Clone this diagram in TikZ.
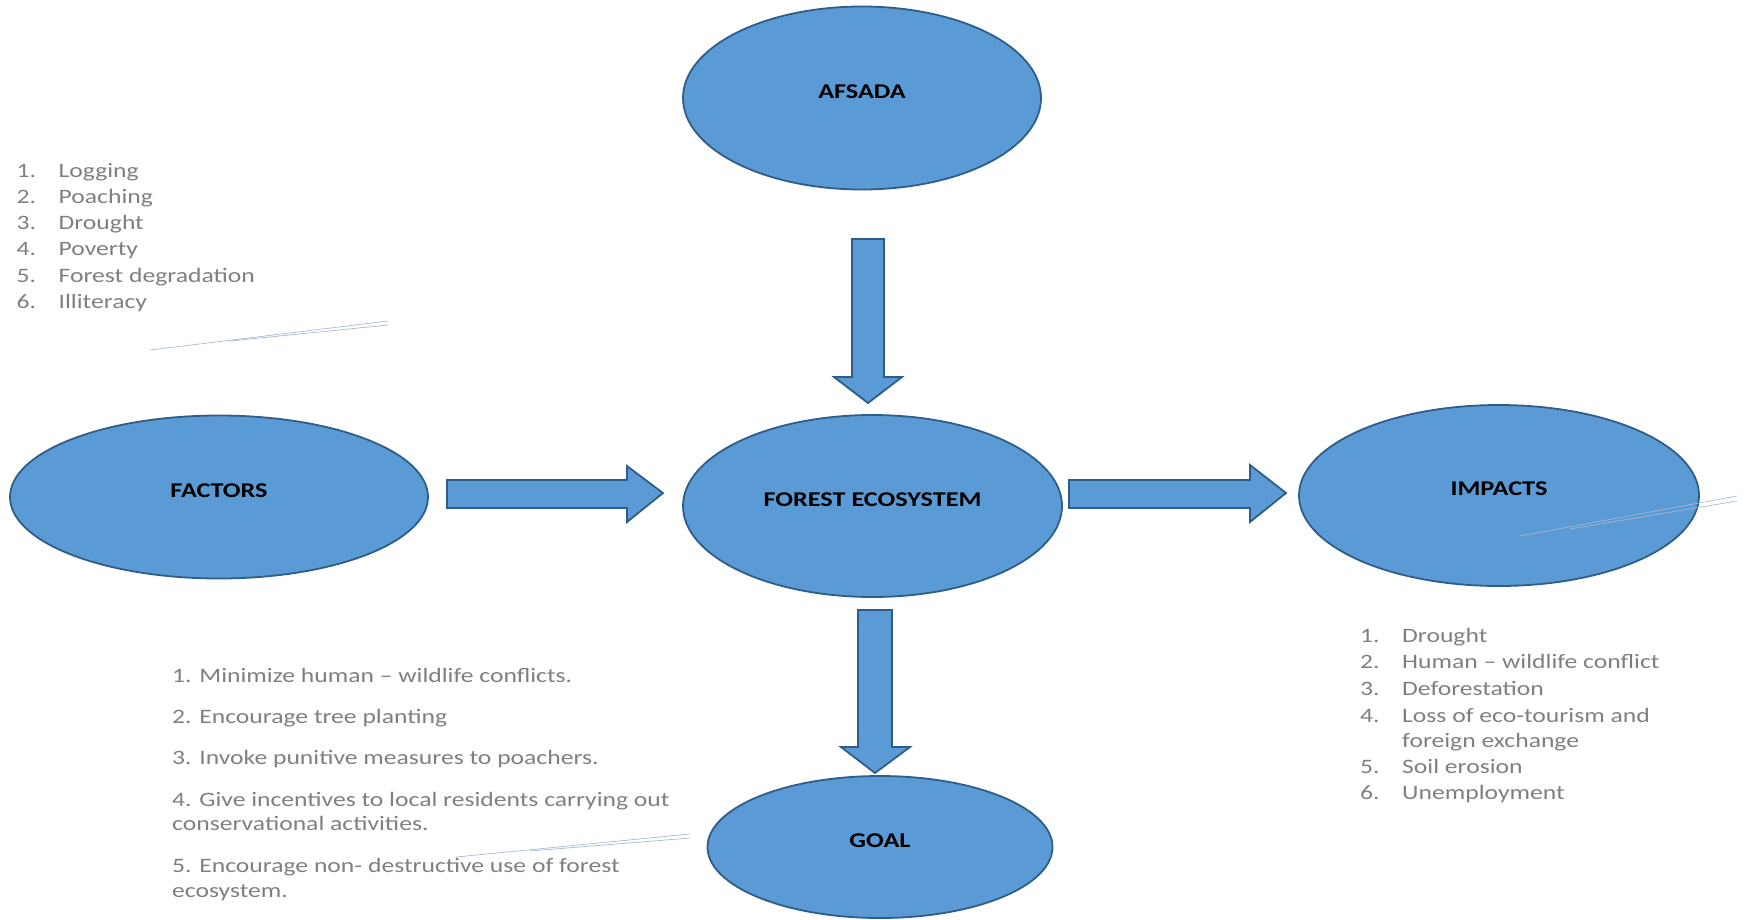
\documentclass[tikz,border=0pt]{standalone}
\usepackage{fontspec}
\setmainfont{Carlito}[FakeStretch=1.25]
\usetikzlibrary{shapes.geometric}
\definecolor{fillblue}{HTML}{5B9BD5}
\definecolor{edgeblue}{HTML}{2F5D8A}
\definecolor{txtgray}{HTML}{7F7F7F}
\definecolor{faint}{HTML}{A8B8D4}
\begin{document}
\begin{tikzpicture}[x=1pt,y=-1pt,
  oval/.style={ellipse, draw=edgeblue, fill=fillblue, line width=1.8pt, inner sep=0pt},
  lbl/.style={font=\fontsize{21pt}{24pt}\selectfont\bfseries, text=black, inner sep=0pt, anchor=base},
  blockarrow/.style={draw=edgeblue, fill=fillblue, line width=1.8pt, line join=miter},
  lst/.style={font=\fontsize{20.5pt}{26pt}\selectfont, text=txtgray, inner sep=0pt, anchor=base west},
  faintline/.style={draw=faint, line width=0.7pt}]
\useasboundingbox (0,0) rectangle (1745,919);

% ellipses
\node[oval, minimum width=358pt, minimum height=183pt] (afsada) at (862,98) {};
\node[oval, minimum width=418pt, minimum height=163pt] (factors) at (219,497) {};
\node[oval, minimum width=379pt, minimum height=182pt] (forest) at (872.5,506) {};
\node[oval, minimum width=400pt, minimum height=181pt] (impacts) at (1499,495.5) {};
\node[oval, minimum width=345pt, minimum height=142pt] (goal) at (880,847) {};

% labels
\node[lbl] (tafsada) at (afsada.center) {AFSADA};
\node[lbl] (tfactors) at (factors.center) {FACTORS};
\node[lbl] (tforest) at (forest.center) {FOREST ECOSYSTEM};
\node[lbl] (timpacts) at (impacts.center) {IMPACTS};
\node[lbl] (tgoal) at (goal.center) {GOAL};

% block arrows
\draw[blockarrow] (852,239) -- (884,239) -- (884,377) -- (902,377) -- (868,403)
  -- (834,377) -- (852,377) -- cycle;
\draw[blockarrow] (858,610) -- (892,610) -- (892,747) -- (910,747) -- (875,773)
  -- (841,747) -- (858,747) -- cycle;
\draw[blockarrow] (447,480) -- (627,480) -- (627,466) -- (663,493) -- (627,522)
  -- (627,508) -- (447,508) -- cycle;
\draw[blockarrow] (1069,480) -- (1250,480) -- (1250,465) -- (1286,493) -- (1250,522)
  -- (1250,508) -- (1069,508) -- cycle;

% faint stray lines
\draw[faintline] (150,350) -- (388,321);
\draw[faintline] (230,341) -- (388,325);
\draw[faintline] (1520,536) -- (1737,496);
\draw[faintline] (1570,529) -- (1737,501);
\draw[faintline] (456,857) -- (690,834);
\draw[faintline] (530,851) -- (690,838);

% factors list
\foreach \t [count=\i] in {Logging,Poaching,Drought,Poverty,Forest degradation,Illiteracy}
  \node[lst] (fac\i) at (16.5,{177+26.3*(\i-1)}) {\makebox[42pt][l]{\i.}\t};

% impacts list
\node[lst] (imp1) at (1360,642) {\makebox[42pt][l]{1.}Drought};
\node[lst] (imp2) at (1360,668) {\makebox[42pt][l]{2.}Human – wildlife conflict};
\node[lst] (imp3) at (1360,695) {\makebox[42pt][l]{3.}Deforestation};
\node[lst] (imp4) at (1360,722) {\makebox[42pt][l]{4.}Loss of eco-tourism and};
\node[lst] (imp4b) at (1402,747) {foreign exchange};
\node[lst] (imp5) at (1360,773) {\makebox[42pt][l]{5.}Soil erosion};
\node[lst] (imp6) at (1360,799) {\makebox[42pt][l]{6.}Unemployment};

% goal list
\node[lst] (g1) at (172,682) {1. Minimize human – wildlife conflicts.};
\node[lst] (g2) at (172,723) {2. Encourage tree planting};
\node[lst] (g3) at (172,764) {3. Invoke punitive measures to poachers.};
\node[lst] (g4) at (172,806) {4. Give incentives to local residents carrying out};
\node[lst] (g4b) at (172,830) {conservational activities.};
\node[lst] (g5) at (172,872) {5. Encourage non- destructive use of forest};
\node[lst] (g5b) at (172,897) {ecosystem.};
\end{tikzpicture}
\end{document}
